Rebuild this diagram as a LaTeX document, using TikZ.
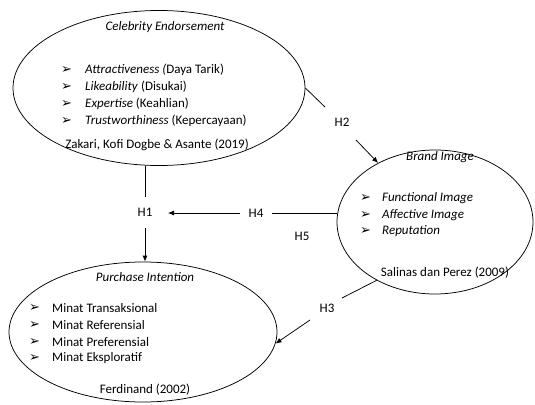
\documentclass[tikz,border=0pt]{standalone}
\usepackage{fontspec}
\setmainfont{Carlito}
\newfontfamily\symfont{DejaVu Sans}
\usetikzlibrary{shapes.geometric,arrows.meta}
\newcommand\blt{{\symfont\fontsize{13}{14}\selectfont ➢}}
\begin{document}
\begin{tikzpicture}[x=1pt,y=-1pt,font=\fontsize{13}{16}\selectfont,
  oval/.style={draw,ellipse,line width=0.75pt,inner sep=0pt},
  lbl/.style={inner sep=1pt},
  itm/.style={anchor=west,inner sep=0pt},
  bul/.style={anchor=west,inner sep=0pt},
  conn/.style={line width=0.75pt},
  arr/.style={conn,-{Latex[length=6pt,width=5pt]}}]
\useasboundingbox (0,0) rectangle (535,404);
% ovals
\node[oval,minimum width=292pt,minimum height=155pt] (ce) at (159,88) {};
\node[oval,minimum width=196pt,minimum height=144pt] (bi) at (435,222) {};
\node[oval,minimum width=268pt,minimum height=140pt] (pi) at (143,332) {};
% Celebrity Endorsement
\node[lbl,font=\fontsize{13}{16}\selectfont\itshape] (cet) at (165,27) {Celebrity Endorsement};
\node[bul] (ceb1) at (61,70) {\blt};
\node[bul] (ceb2) at (61,87) {\blt};
\node[bul] (ceb3) at (61,104) {\blt};
\node[bul] (ceb4) at (61,121) {\blt};
\node[itm] (cei1) at (85,70) {\textit{Attractiveness (}Daya Tarik)};
\node[itm] (cei2) at (85,87) {\textit{Likeability} (Disukai)};
\node[itm] (cei3) at (85,104) {\textit{Expertise} (Keahlian)};
\node[itm] (cei4) at (85,121) {\textit{Trustworthiness} (Kepercayaan)};
\node[lbl] (cec) at (157,145) {Zakari, Kofi Dogbe \& Asante (2019)};
% Brand Image
\node[lbl,font=\fontsize{13}{16}\selectfont\itshape] (bit) at (440,157) {Brand Image};
\node[bul] (bib1) at (360,198) {\blt};
\node[bul] (bib2) at (360,215) {\blt};
\node[bul] (bib3) at (360,231) {\blt};
\node[itm] (bii1) at (382,198) {\textit{Functional Image}};
\node[itm] (bii2) at (382,215) {\textit{Affective Image}};
\node[itm] (bii3) at (382,231) {\textit{Reputation}};
\node[lbl] (bic) at (445,273) {Salinas dan Perez (2009)};
% Purchase Intention
\node[lbl,font=\fontsize{13}{16}\selectfont\itshape] (pit) at (145,277) {Purchase Intention};
\node[bul] (pib1) at (29,308) {\blt};
\node[bul] (pib2) at (29,325) {\blt};
\node[bul] (pib3) at (29,342) {\blt};
\node[bul] (pib4) at (29,358) {\blt};
\node[itm] (pii1) at (52,308) {Minat Transaksional};
\node[itm] (pii2) at (52,325) {Minat Referensial};
\node[itm] (pii3) at (52,342) {Minat Preferensial};
\node[itm] (pii4) at (52,358) {Minat Eksploratif};
\node[lbl] (pic) at (145,390) {Ferdinand (2002)};
% hypothesis labels
\node[lbl] (h1) at (145,212) {H1};
\node[lbl] (h2) at (342,122) {H2};
\node[lbl] (h3) at (327,308) {H3};
\node[lbl] (h4) at (256,213) {H4};
\node[lbl] (h5) at (302,236) {H5};
% connector end points
\coordinate (h1t) at (145,197);
\coordinate (h1b) at (145,228);
\coordinate (h2a) at (325,107);
\coordinate (h2b) at (356,140);
\coordinate (h3a) at (342,298);
\coordinate (h3b) at (310,320);
\coordinate (h4a) at (272,213);
\coordinate (h4b) at (240,213);
\coordinate (h4tip) at (168,213);
% connectors
\draw[conn] (h1 |- ce.south) -- (h1t);
\draw[arr] (h1b) -- (h1 |- pi.north);
\draw[conn] (ce.0) -- (h2a);
\draw[arr] (h2b) -- (bi);
\draw[conn] (bi.225) -- (h3a);
\draw[arr] (h3b) -- (pi.-5);
\draw[conn] (h4a -| bi.west) -- (h4a);
\draw[arr] (h4b) -- (h4tip);
\end{tikzpicture}
\end{document}
